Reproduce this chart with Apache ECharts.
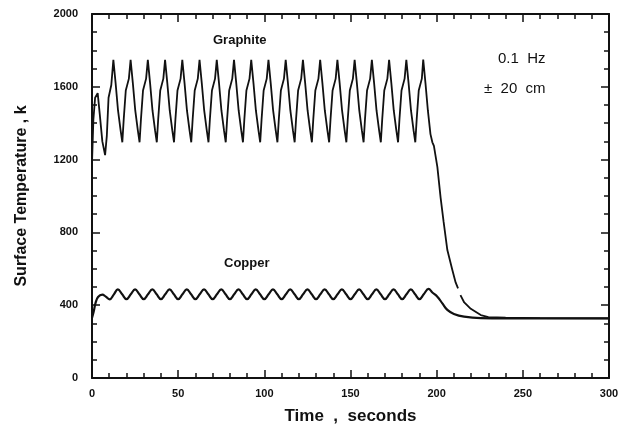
<!DOCTYPE html>
<html>
<head>
<meta charset="utf-8">
<script src="https://cdn.jsdelivr.net/npm/echarts@6/dist/echarts.min.js"></script>
<style>
  html, body { margin: 0; padding: 0; background: #fff; }
  #chart { width: 623px; height: 437px; }
</style>
</head>
<body>
<div id="chart"></div>
<script>
  // axis ticks
  const xTicks = [0, 50, 100, 150, 200, 250, 300]
  const yTicks = [0, 400, 800, 1200, 1600, 2000]

  // graphite surface temperature [time s, temp K]
  const graphite = [
    [0, 1180], [0.8, 1420], [1.8, 1540], [3.3, 1565], [4.5, 1450], [6, 1300], [7.6, 1225], [8.6, 1330], [9.6, 1540], [11.2, 1610], [12.4, 1748],
    [13.7, 1620], [15.1, 1470], [16.6, 1360], [17.6, 1295], [18.4, 1420], [19.6, 1580], [21.4, 1645], [22.4, 1748],
    [23.7, 1620], [25.1, 1470], [26.6, 1360], [27.6, 1295], [28.4, 1420], [29.6, 1580], [31.4, 1645], [32.4, 1748],
    [33.7, 1620], [35.1, 1470], [36.6, 1360], [37.6, 1295], [38.4, 1420], [39.6, 1580], [41.4, 1645], [42.4, 1748],
    [43.7, 1620], [45.1, 1470], [46.6, 1360], [47.6, 1295], [48.4, 1420], [49.6, 1580], [51.4, 1645], [52.4, 1748],
    [53.7, 1620], [55.1, 1470], [56.6, 1360], [57.6, 1295], [58.4, 1420], [59.6, 1580], [61.4, 1645], [62.4, 1748],
    [63.7, 1620], [65.1, 1470], [66.6, 1360], [67.6, 1295], [68.4, 1420], [69.6, 1580], [71.4, 1645], [72.4, 1748],
    [73.7, 1620], [75.1, 1470], [76.6, 1360], [77.6, 1295], [78.4, 1420], [79.6, 1580], [81.4, 1645], [82.4, 1748],
    [83.7, 1620], [85.1, 1470], [86.6, 1360], [87.6, 1295], [88.4, 1420], [89.6, 1580], [91.4, 1645], [92.4, 1748],
    [93.7, 1620], [95.1, 1470], [96.6, 1360], [97.6, 1295], [98.4, 1420], [99.6, 1580], [101.4, 1645], [102.4, 1748],
    [103.7, 1620], [105.1, 1470], [106.6, 1360], [107.6, 1295], [108.4, 1420], [109.6, 1580], [111.4, 1645], [112.4, 1748],
    [113.7, 1620], [115.1, 1470], [116.6, 1360], [117.6, 1295], [118.4, 1420], [119.6, 1580], [121.4, 1645], [122.4, 1748],
    [123.7, 1620], [125.1, 1470], [126.6, 1360], [127.6, 1295], [128.4, 1420], [129.6, 1580], [131.4, 1645], [132.4, 1748],
    [133.7, 1620], [135.1, 1470], [136.6, 1360], [137.6, 1295], [138.4, 1420], [139.6, 1580], [141.4, 1645], [142.4, 1748],
    [143.7, 1620], [145.1, 1470], [146.6, 1360], [147.6, 1295], [148.4, 1420], [149.6, 1580], [151.4, 1645], [152.4, 1748],
    [153.7, 1620], [155.1, 1470], [156.6, 1360], [157.6, 1295], [158.4, 1420], [159.6, 1580], [161.4, 1645], [162.4, 1748],
    [163.7, 1620], [165.1, 1470], [166.6, 1360], [167.6, 1295], [168.4, 1420], [169.6, 1580], [171.4, 1645], [172.4, 1748],
    [173.7, 1620], [175.1, 1470], [176.6, 1360], [177.6, 1295], [178.4, 1420], [179.6, 1580], [181.4, 1645], [182.4, 1748],
    [183.7, 1620], [185.1, 1470], [186.6, 1360], [187.6, 1295], [188.4, 1420], [189.6, 1580], [191.4, 1645], [192.2, 1750],
    [193.5, 1620], [194.9, 1470], [196.4, 1340], [197.5, 1295], [198.4, 1275], [200.4, 1160], [202.3, 990], [204, 860],
    [206.2, 703], [209.1, 593], [211, 525], [212.4, 492], [213, null], [213.8, 455], [216, 415], [219.8, 380],
    [225.6, 346], [230, 335], [240, 331], [260, 329], [300, 328]
  ]

  // copper surface temperature [time s, temp K]
  const copper = [
    [0, 330], [1, 365], [2, 410], [3.5, 445], [6, 458], [8, 447], [10.3, 432], [12.6, 458], [15, 487],
    [17.5, 460], [20, 433], [22.5, 460], [25, 487], [27.5, 460], [30, 433], [32.5, 460], [35, 487],
    [37.5, 460], [40, 433], [42.5, 460], [45, 487], [47.5, 460], [50, 433], [52.5, 460], [55, 487],
    [57.5, 460], [60, 433], [62.5, 460], [65, 487], [67.5, 460], [70, 433], [72.5, 460], [75, 487],
    [77.5, 460], [80, 433], [82.5, 460], [85, 487], [87.5, 460], [90, 433], [92.5, 460], [95, 487],
    [97.5, 460], [100, 433], [102.5, 460], [105, 487], [107.5, 460], [110, 433], [112.5, 460], [115, 487],
    [117.5, 460], [120, 433], [122.5, 460], [125, 487], [127.5, 460], [130, 433], [132.5, 460], [135, 487],
    [137.5, 460], [140, 433], [142.5, 460], [145, 487], [147.5, 460], [150, 433], [152.5, 460], [155, 487],
    [157.5, 460], [160, 433], [162.5, 460], [165, 487], [167.5, 460], [170, 433], [172.5, 460], [175, 487],
    [177.5, 460], [180, 433], [182.5, 460], [185, 487], [187.5, 460], [190, 433], [192.5, 460], [195.3, 490],
    [197.5, 470], [200.4, 447], [203.3, 410], [206.2, 374], [210, 352], [215.9, 337], [225.6, 329], [240, 328], [300, 328]
  ]

  var myChart = echarts.init(document.getElementById('chart'))

  const ink = '#111'
  const tickFont = { color: ink, fontSize: 11, fontWeight: 'bold', fontFamily: 'Liberation Sans' }

  function frameAxis(pos, isX, showLabel) {
    return {
      type: 'value',
      position: pos,
      min: isX ? xTicks[0] : yTicks[0],
      max: isX ? xTicks[xTicks.length - 1] : yTicks[yTicks.length - 1],
      interval: isX ? 50 : 400,
      axisLine: { show: true, onZero: false, lineStyle: { color: ink, width: 2 } },
      axisTick: { show: true, inside: true, length: 8, lineStyle: { color: ink, width: 1.5 } },
      minorTick: { show: true, splitNumber: isX ? 5 : 4, length: 5, lineStyle: { color: ink, width: 1.5 } },
      splitLine: { show: false },
      axisLabel: Object.assign({
        show: showLabel,
        margin: isX ? 10 : 14,
        formatter: function (v) { return String(v) }
      }, tickFont)
    }
  }

  var xBottom = frameAxis('bottom', true, true)
  xBottom.name = 'Time  ,  seconds'
  xBottom.nameLocation = 'middle'
  xBottom.nameGap = 30
  xBottom.nameTextStyle = { color: ink, fontSize: 17, fontWeight: 'bold', fontFamily: 'Liberation Sans' }

  var yLeft = frameAxis('left', false, true)
  yLeft.name = 'Surface Temperature , k'
  yLeft.nameLocation = 'middle'
  yLeft.nameGap = 62
  yLeft.nameTextStyle = { color: ink, fontSize: 16, fontWeight: 'bold', fontFamily: 'Liberation Sans' }

  var option = {
    backgroundColor: '#fff',
    animation: false,
    grid: { left: 92, right: 14, top: 14, bottom: 59 },
    xAxis: [xBottom, frameAxis('top', true, false)],
    yAxis: [yLeft, frameAxis('right', false, false)],
    graphic: [
      { type: 'text', left: 213, top: 34, style: { text: 'Graphite', fill: ink, font: 'bold 13px "Liberation Sans"' } },
      { type: 'text', left: 224, top: 257, style: { text: 'Copper', fill: ink, font: 'bold 13px "Liberation Sans"' } },
      { type: 'text', left: 498, top: 51, style: { text: '0.1  Hz', fill: ink, font: '15px "Liberation Sans"' } },
      { type: 'text', left: 484, top: 81, style: { text: '±  20  cm', fill: ink, font: '15px "Liberation Sans"' } }
    ],
    series: [
      {
        name: 'Graphite',
        type: 'line',
        data: graphite,
        showSymbol: false,
        connectNulls: false,
        lineStyle: { color: ink, width: 1.8 }
      },
      {
        name: 'Copper',
        type: 'line',
        data: copper,
        showSymbol: false,
        smooth: 0.4,
        lineStyle: { color: ink, width: 2.2 }
      }
    ]
  }

  option && myChart.setOption(option)
</script>
</body>
</html>
